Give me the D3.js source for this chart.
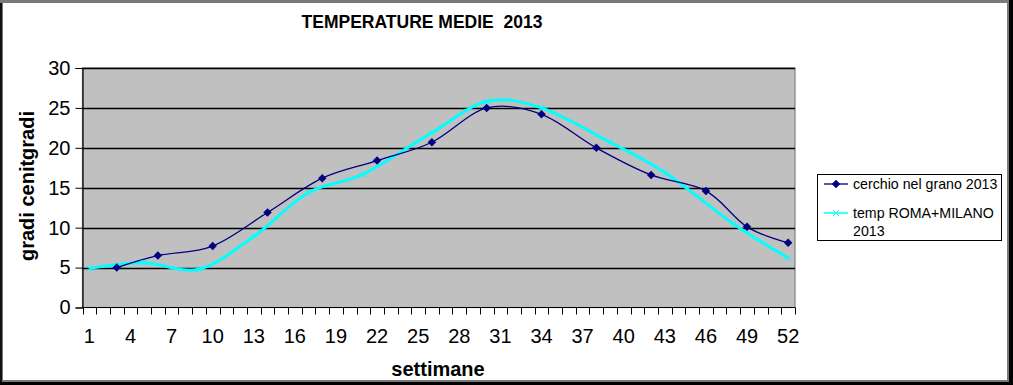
<!DOCTYPE html>
<html><head><meta charset="utf-8">
<script src="https://cdn.jsdelivr.net/npm/d3@7"></script>
<style>html,body{margin:0;padding:0;background:#000;overflow:hidden}svg{display:block}</style>
</head><body>
<script>
const title = "TEMPERATURE MEDIE  2013";
const xTitle = "settimane";
const yTitle = "gradi cenitgradi";
const weeks = d3.range(1, 53);
const xTickLabels = d3.range(1, 53, 3);
const yTicks = [0, 5, 10, 15, 20, 25, 30];
const seriesNames = ["cerchio nel grano 2013", "temp ROMA+MILANO 2013"];
const navyWeeks = [3, 6, 10, 14, 18, 22, 26, 30, 34, 38, 42, 46, 49, 52];
const navyValues = [5.0, 6.5, 7.7, 11.9, 16.2, 18.4, 20.7, 25.0, 24.2, 20.0, 16.6, 14.6, 10.1, 8.1];
const cyanWeeks = [1, 5, 9, 13, 17, 21, 26, 30, 34, 39, 43, 48, 52];
const cyanValues = [4.9, 5.6, 4.8, 8.9, 14.4, 16.7, 21.9, 25.8, 25.0, 20.7, 16.9, 10.5, 6.2];

const W = 1013, H = 385;
const svg = d3.select("body").append("svg").attr("width", W).attr("height", H)
  .style("font-family", "Liberation Sans, Arial, sans-serif");

// frame
svg.append("rect").attr("x", 0).attr("y", 0).attr("width", W).attr("height", H).attr("fill", "#000");
svg.append("rect").attr("x", 0).attr("y", 0).attr("width", 1009).attr("height", 382).attr("fill", "#7a7a7a");
svg.append("rect").attr("x", 0).attr("y", 3).attr("width", 2).attr("height", 379).attr("fill", "#111");
svg.append("rect").attr("x", 3).attr("y", 3).attr("width", 1004).attr("height", 377).attr("fill", "#fff");

const L = 82.5, R = 795, T = 68, B = 307.5;
const x = d3.scaleBand().domain(weeks).range([L, R]);
const y = d3.scaleLinear().domain([0, 30]).range([B, T]);

// plot area
svg.append("rect").attr("x", L).attr("y", T).attr("width", R - L).attr("height", B - T)
  .attr("fill", "#c0c0c0").attr("stroke", "#808080").attr("stroke-width", 1.2);

// gridlines
svg.append("g").selectAll("line").data(yTicks.filter(d => d > 0)).join("line")
  .attr("x1", L).attr("x2", R).attr("y1", d => Math.round(y(d)) + 0.5).attr("y2", d => Math.round(y(d)) + 0.5)
  .attr("stroke", "#000").attr("stroke-width", 1.6);

// y axis
const yAxis = d3.axisLeft(y).tickValues(yTicks).tickSize(7).tickPadding(5);
const gy = svg.append("g").attr("transform", `translate(${L},0)`).call(yAxis);
gy.select(".domain").attr("stroke", "#000").attr("stroke-width", 1.2);
gy.selectAll(".tick line").attr("stroke", "#000");
gy.selectAll("text").attr("font-size", 20).attr("fill", "#000").attr("font-family", "Liberation Sans, Arial, sans-serif");

// x axis
const boundaries = weeks.map(w => x(w)).concat([R]);
svg.append("line").attr("x1", L).attr("x2", R).attr("y1", B).attr("y2", B).attr("stroke", "#000").attr("stroke-width", 1.2);
svg.append("g").selectAll("line").data(boundaries).join("line")
  .attr("x1", d => Math.round(d) + 0.5).attr("x2", d => Math.round(d) + 0.5)
  .attr("y1", B).attr("y2", B + 7).attr("stroke", "#000").attr("stroke-width", 1);
svg.append("g").selectAll("text").data(xTickLabels).join("text")
  .attr("x", d => x(d) + x.bandwidth() / 2).attr("y", 343)
  .attr("text-anchor", "middle").attr("font-size", 20).attr("fill", "#000").text(d => d);

// titles
svg.append("text").attr("x", 422).attr("y", 28).attr("text-anchor", "middle")
  .style("white-space", "pre").attr("xml:space", "preserve")
  .attr("font-size", 17.5).attr("font-weight", "bold").text(title);
svg.append("text").attr("x", 438).attr("y", 376).attr("text-anchor", "middle")
  .attr("font-size", 20).attr("font-weight", "bold").text(xTitle);
svg.append("text").attr("transform", "translate(34,186) rotate(-90)").attr("text-anchor", "middle")
  .attr("font-size", 20).attr("font-weight", "bold").text(yTitle);

// series
const cx = w => x(w) + x.bandwidth() / 2;
const line = d3.line().x(d => cx(d[0])).y(d => y(d[1])).curve(d3.curveCardinal.tension(0));
const navy = navyWeeks.map((w, i) => [w, navyValues[i]]);
const cyan = cyanWeeks.map((w, i) => [w, cyanValues[i]]);

svg.append("path").datum(cyan).attr("d", line).attr("fill", "none").attr("stroke", "#00ffff").attr("stroke-width", 3);
svg.append("path").datum(navy).attr("d", line).attr("fill", "none").attr("stroke", "#000080").attr("stroke-width", 1.3);

const diamond = d3.symbol().type(d3.symbolDiamond2).size(46);
svg.append("g").selectAll("path").data(navy).join("path")
  .attr("transform", d => `translate(${cx(d[0])},${y(d[1])})`).attr("d", diamond).attr("fill", "#000080");
const xs = 3;
svg.append("g").selectAll("path").data(cyan).join("path")
  .attr("d", d => { const px = cx(d[0]), py = y(d[1]); return `M${px - xs},${py - xs}L${px + xs},${py + xs}M${px - xs},${py + xs}L${px + xs},${py - xs}`; })
  .attr("stroke", "#00ffff").attr("stroke-width", 1);

// legend
const lg = svg.append("g");
lg.append("rect").attr("x", 817.5).attr("y", 174.5).attr("width", 184).attr("height", 66).attr("fill", "#fff").attr("stroke", "#000").attr("stroke-width", 1);
lg.append("line").attr("x1", 824).attr("x2", 848).attr("y1", 184).attr("y2", 184).attr("stroke", "#000080").attr("stroke-width", 1.3);
lg.append("path").attr("transform", "translate(836,184)").attr("d", diamond).attr("fill", "#000080");
lg.append("text").attr("x", 853).attr("y", 189).attr("font-size", 14.2).text(seriesNames[0]);
lg.append("line").attr("x1", 824).attr("x2", 848).attr("y1", 213).attr("y2", 213).attr("stroke", "#00ffff").attr("stroke-width", 1.5);
lg.append("path").attr("d", `M${836 - xs},${213 - xs}L${836 + xs},${213 + xs}M${836 - xs},${213 + xs}L${836 + xs},${213 - xs}`).attr("stroke", "#00ffff");
const parts = seriesNames[1].split(" ");
lg.append("text").attr("x", 853).attr("y", 218).attr("font-size", 14.2).text(parts.slice(0, 2).join(" "));
lg.append("text").attr("x", 853).attr("y", 236).attr("font-size", 14.2).text(parts[2]);
</script>
</body></html>
